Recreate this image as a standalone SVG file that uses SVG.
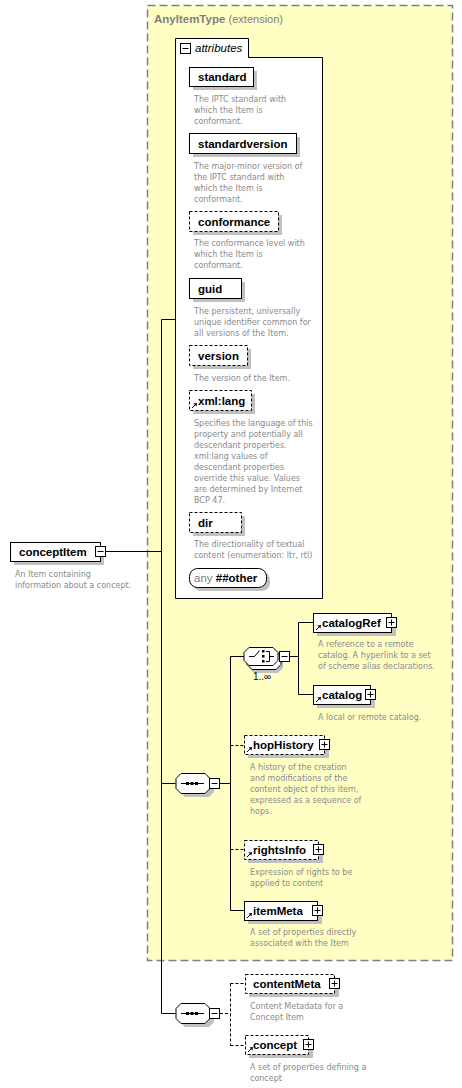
<svg xmlns="http://www.w3.org/2000/svg" width="462" height="1088" viewBox="0 0 462 1088">
<style>
.lbl{font-family:"Liberation Sans",Arial,sans-serif;font-size:11.5px;font-weight:bold;fill:#000}
.desc{font-family:"DejaVu Sans",sans-serif;font-size:8px;fill:#8a8a8a}
.box{fill:#fff;stroke:#000;stroke-width:1}
.dbox{fill:#fff;stroke:#000;stroke-width:1;stroke-dasharray:3,2}
.shd{fill:#c0c0c0}
.ln{stroke:#000;stroke-width:1;fill:none}
.dln{stroke:#000;stroke-width:1;fill:none;stroke-dasharray:3,2}
.ico{fill:#fff;stroke:#000;stroke-width:1}
</style>
<defs>
<g id="minus"><rect class="ico" x="0" y="0" width="10" height="10"/><path class="ln" d="M2,5H8"/></g>
<g id="plus"><rect class="ico" x="0" y="0" width="10" height="10"/><path class="ln" d="M2,5H8M5,2V8"/></g>
<g id="link"><path class="ln" d="M0,0L4,-4"/><path d="M5,-5L1.5,-4.5L4.5,-1.5Z" fill="#000"/></g>
</defs>

<!-- extension area -->
<g id="anyItemType">
<rect x="147.5" y="5.5" width="305" height="955" fill="#ffffc4" stroke="#808080" stroke-width="1.5" stroke-dasharray="8,4"/>
<text x="154" y="23" font-family="Liberation Sans,Arial,sans-serif" font-size="11.5" font-weight="bold" fill="#808080">AnyItemType <tspan font-weight="normal" font-size="11">(extension)</tspan></text>
</g>

<!-- connectors -->
<g id="connectors">
<path class="ln" d="M105,551.5H161.5M161.5,319.5V1013.5M161.5,319.5H175.5M161.5,783.5H175.5M161.5,1013.5H175.5"/>
<path class="ln" d="M220,783.5H230.5M230.5,656.5V910.5M230.5,656.5H244M230.5,910.5H244"/>
<path class="dln" d="M230.5,745.5H244M230.5,849.5H244"/>
<path class="ln" d="M289,656.5H298.5M298.5,622.5V694.5M298.5,622.5H313M298.5,694.5H313"/>
<path class="dln" d="M220,1013.5H230.5M230.5,983.5V1045.5M230.5,983.5H245M230.5,1045.5H245"/>
</g>

<!-- attributes -->
<g id="attributes">
<path d="M175.5,598.5V38.5H248.5V57.5H322.5V598.5Z" fill="#fff" stroke="#000"/>
<use href="#minus" x="180.5" y="43.5"/>
<text x="195" y="52" font-family="Liberation Sans,Arial,sans-serif" font-size="11.5" font-style="italic">attributes</text>
</g>

<g id="standard">
<rect class="shd" x="193" y="71" width="64" height="19"/>
<rect class="box" x="189.5" y="67.5" width="64" height="19"/>
<text class="lbl" x="198" y="81">standard</text>
<text class="desc"><tspan x="194" y="102">The IPTC standard with</tspan><tspan x="194" y="113">which the Item is</tspan><tspan x="194" y="124">conformant.</tspan></text>
</g>

<g id="standardversion">
<rect class="shd" x="193" y="137" width="107" height="20"/>
<rect class="box" x="189.5" y="133.5" width="107" height="20"/>
<text class="lbl" x="198" y="148">standardversion</text>
<text class="desc"><tspan x="194" y="169">The major-minor version of</tspan><tspan x="194" y="180">the IPTC standard with</tspan><tspan x="194" y="191">which the Item is</tspan><tspan x="194" y="202">conformant.</tspan></text>
</g>

<g id="conformance">
<rect class="shd" x="193" y="215" width="89" height="20"/>
<rect class="dbox" x="189.5" y="211.5" width="89" height="20"/>
<text class="lbl" x="198" y="226">conformance</text>
<text class="desc"><tspan x="194" y="246">The conformance level with</tspan><tspan x="194" y="257">which the Item is</tspan><tspan x="194" y="268">conformant.</tspan></text>
</g>

<g id="guid">
<rect class="shd" x="193" y="282" width="52" height="20"/>
<rect class="box" x="189.5" y="278.5" width="52" height="20"/>
<text class="lbl" x="198" y="293">guid</text>
<text class="desc"><tspan x="194" y="314">The persistent, universally</tspan><tspan x="194" y="325">unique identifier common for</tspan><tspan x="194" y="336">all versions of the Item.</tspan></text>
</g>

<g id="version">
<rect class="shd" x="193" y="349" width="58" height="20"/>
<rect class="dbox" x="189.5" y="345.5" width="58" height="20"/>
<text class="lbl" x="198" y="360">version</text>
<text class="desc"><tspan x="194" y="381">The version of the Item.</tspan></text>
</g>

<g id="xmllang">
<rect class="shd" x="193" y="394" width="62" height="20"/>
<rect class="dbox" x="189.5" y="390.5" width="62" height="20"/>
<use href="#link" x="192" y="408"/>
<text class="lbl" x="198" y="405">xml:lang</text>
<text class="desc"><tspan x="194" y="426">Specifies the language of this</tspan><tspan x="194" y="437">property and potentially all</tspan><tspan x="194" y="448">descendant properties.</tspan><tspan x="194" y="459">xml:lang values of</tspan><tspan x="194" y="470">descendant properties</tspan><tspan x="194" y="481">override this value. Values</tspan><tspan x="194" y="492">are determined by Internet</tspan><tspan x="194" y="503">BCP 47.</tspan></text>
</g>

<g id="dir">
<rect class="shd" x="193" y="516" width="52" height="20"/>
<rect class="dbox" x="189.5" y="512.5" width="52" height="20"/>
<text class="lbl" x="198" y="527">dir</text>
<text class="desc"><tspan x="194" y="547">The directionality of textual</tspan><tspan x="194" y="558">content (enumeration: ltr, rtl)</tspan></text>
</g>

<g id="anyOther">
<rect class="shd" x="193" y="572" width="77" height="19" rx="8"/>
<rect class="box" x="189.5" y="568.5" width="77" height="19" rx="8"/>
<text x="194" y="582" font-family="Liberation Sans,Arial,sans-serif" font-size="11.5" fill="#808080">any <tspan class="lbl">##other</tspan></text>
</g>

<!-- conceptItem -->
<g id="conceptItem">
<rect class="shd" x="14" y="546" width="90" height="19"/>
<rect class="box" x="10.5" y="542.5" width="90" height="19"/>
<text class="lbl" x="19" y="556">conceptItem</text>
<use href="#minus" x="95.5" y="546.5"/>
<text class="desc"><tspan x="15" y="577">An Item containing</tspan><tspan x="15" y="588">information about a concept.</tspan></text>
</g>

<!-- sequence 1 -->
<g id="sequence1">
<path class="shd" d="M185,777H209L214,782V792L209,797H185L180,792V782Z"/>
<path class="box" d="M181,773.5H205L210,778.5V788.5L205,793.5H181L176,788.5V778.5Z"/>
<path class="ln" d="M181,783.5H204"/>
<rect x="186" y="782" width="3" height="3"/><rect x="190.5" y="782" width="3" height="3"/><rect x="195" y="782" width="3" height="3"/>
<use href="#minus" x="209.5" y="778.5"/>
</g>

<!-- choice -->
<g id="choice">
<path class="shd" d="M254,655H278L283,660V668L278,673H254L249,668V660Z"/>
<path class="box" d="M252,651.5H276L281,656.5V664.5L276,669.5H252L247,664.5V656.5Z"/>
<path class="box" d="M249,647.5H273L278,652.5V660.5L273,665.5H249L244,660.5V652.5Z"/>
<path class="ln" d="M249,656.5H254.5L259.5,650.5M266,651.5H269.5V661.5H266M269.5,656.5H274"/>
<rect x="262" y="650" width="2.5" height="2.5"/><rect x="262" y="655" width="2.5" height="2.5"/><rect x="262" y="660" width="2.5" height="2.5"/>
<use href="#minus" x="279.5" y="651.5"/>
<text x="253" y="680" font-family="Liberation Sans,Arial,sans-serif" font-size="10" fill="#000033">1..∞</text>
</g>

<g id="catalogRef">
<rect class="shd" x="317" y="617" width="79" height="19"/>
<rect class="box" x="313.5" y="613.5" width="78" height="19"/>
<use href="#link" x="316" y="630"/>
<text class="lbl" x="322" y="627">catalogRef</text>
<use href="#plus" x="386.5" y="617.5"/>
<text class="desc"><tspan x="318" y="647">A reference to a remote</tspan><tspan x="318" y="658">catalog. A hyperlink to a set</tspan><tspan x="318" y="669">of scheme alias declarations.</tspan></text>
</g>

<g id="catalog">
<rect class="shd" x="317" y="689" width="58" height="19"/>
<rect class="box" x="313.5" y="685.5" width="57" height="19"/>
<use href="#link" x="316" y="702"/>
<text class="lbl" x="322" y="699">catalog</text>
<use href="#plus" x="365.5" y="689.5"/>
<text class="desc"><tspan x="318" y="720">A local or remote catalog.</tspan></text>
</g>

<g id="hopHistory">
<rect class="shd" x="248" y="739" width="81" height="19"/>
<rect class="dbox" x="244.5" y="735.5" width="80" height="19"/>
<use href="#link" x="247" y="752"/>
<text class="lbl" x="253" y="749">hopHistory</text>
<use href="#plus" x="319.5" y="739.5"/>
<text class="desc"><tspan x="250" y="770"> A history of the creation</tspan><tspan x="250" y="781">and modifications of the</tspan><tspan x="250" y="792">content object of this item,</tspan><tspan x="250" y="803">expressed as a sequence of</tspan><tspan x="250" y="814">hops.</tspan></text>
</g>

<g id="rightsInfo">
<rect class="shd" x="248" y="844" width="75" height="19"/>
<rect class="dbox" x="244.5" y="840.5" width="74" height="19"/>
<use href="#link" x="247" y="857"/>
<text class="lbl" x="253" y="854">rightsInfo</text>
<use href="#plus" x="313.5" y="844.5"/>
<text class="desc"><tspan x="250" y="875">Expression of rights to be</tspan><tspan x="250" y="886">applied to content</tspan></text>
</g>

<g id="itemMeta">
<rect class="shd" x="248" y="905" width="74" height="19"/>
<rect class="box" x="244.5" y="901.5" width="73" height="19"/>
<use href="#link" x="247" y="918"/>
<text class="lbl" x="253" y="915">itemMeta</text>
<use href="#plus" x="312.5" y="905.5"/>
<text class="desc"><tspan x="250" y="935">A set of properties directly</tspan><tspan x="250" y="946">associated with the Item</tspan></text>
</g>

<!-- sequence 2 -->
<g id="sequence2">
<path class="shd" d="M185,1007H209L214,1012V1022L209,1027H185L180,1022V1012Z"/>
<path class="box" d="M181,1003.5H205L210,1008.5V1018.5L205,1023.5H181L176,1018.5V1008.5Z"/>
<path class="ln" d="M181,1013.5H204"/>
<rect x="186" y="1012" width="3" height="3"/><rect x="190.5" y="1012" width="3" height="3"/><rect x="195" y="1012" width="3" height="3"/>
<use href="#minus" x="209.5" y="1008.5"/>
</g>

<g id="contentMeta">
<rect class="shd" x="249" y="978" width="90" height="19"/>
<rect class="dbox" x="245.5" y="974.5" width="89" height="19"/>
<text class="lbl" x="253" y="988">contentMeta</text>
<use href="#plus" x="329.5" y="978.5"/>
<text class="desc"><tspan x="250" y="1009">Content Metadata for a</tspan><tspan x="250" y="1020">Concept Item</tspan></text>
</g>

<g id="concept">
<rect class="shd" x="249" y="1039" width="64" height="19"/>
<rect class="dbox" x="245.5" y="1035.5" width="63" height="19"/>
<use href="#link" x="248" y="1052"/>
<text class="lbl" x="253" y="1049">concept</text>
<use href="#plus" x="303.5" y="1039.5"/>
<text class="desc"><tspan x="250" y="1070">A set of properties defining a</tspan><tspan x="250" y="1081">concept</tspan></text>
</g>
</svg>
